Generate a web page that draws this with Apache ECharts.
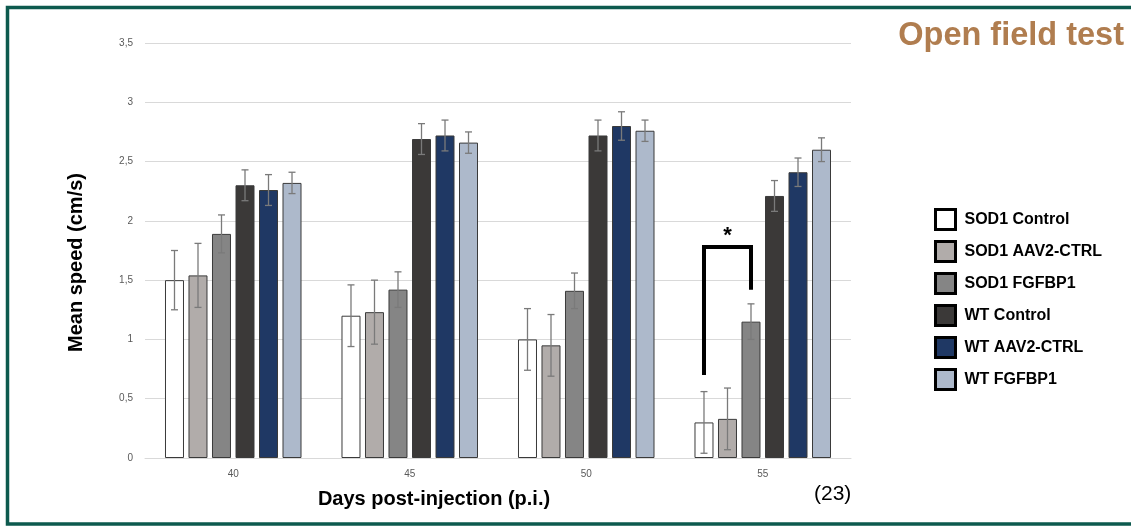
<!DOCTYPE html>
<html><head><meta charset="utf-8">
<script src="https://cdn.jsdelivr.net/npm/echarts@6/dist/echarts.min.js"></script>
<style>html,body{margin:0;padding:0;background:#fff}#c{width:1131px;height:527px}</style>
</head><body><div id="c"></div>
<script>
const categories = ['40', '45', '50', '55'];
const seriesNames = ['SOD1 Control', 'SOD1 AAV2-CTRL', 'SOD1 FGFBP1', 'WT Control', 'WT AAV2-CTRL', 'WT FGFBP1'];
const colors = ['#ffffff', '#b1acaa', '#858585', '#3b3938', '#1f3864', '#adb9cb'];
const sod1Control   = [1.50, 1.20, 1.00, 0.30];
const sod1Aav2      = [1.54, 1.23, 0.95, 0.33];
const sod1Fgfbp1    = [1.89, 1.42, 1.41, 1.15];
const wtControl     = [2.30, 2.69, 2.72, 2.21];
const wtAav2        = [2.26, 2.72, 2.80, 2.41];
const wtFgfbp1      = [2.32, 2.66, 2.76, 2.60];
const sod1ControlErr = [0.25, 0.26, 0.26, 0.26];
const sod1Aav2Err    = [0.27, 0.27, 0.26, 0.26];
const sod1Fgfbp1Err  = [0.16, 0.15, 0.15, 0.15];
const wtControlErr   = [0.13, 0.13, 0.13, 0.13];
const wtAav2Err      = [0.13, 0.13, 0.12, 0.12];
const wtFgfbp1Err    = [0.09, 0.09, 0.09, 0.10];
const yTicks = [0, 0.5, 1, 1.5, 2, 2.5, 3, 3.5];
// significance bracket (day 55): SOD1 Control vs SOD1 FGFBP1
const sigCategory = 3;
const sigBars = [0, 2];
const sigTop = 1.78;
const sigLeftBottom = 0.70;
const sigRightBottom = 1.42;
const sigStarY = 1.87;

const means = [sod1Control, sod1Aav2, sod1Fgfbp1, wtControl, wtAav2, wtFgfbp1];
const errs = [sod1ControlErr, sod1Aav2Err, sod1Fgfbp1Err, wtControlErr, wtAav2Err, wtFgfbp1Err];

const BAR_W = 19, GAP_RATIO = 0.237;
const nS = seriesNames.length;
function barOffset(i) {
  const gap = BAR_W * GAP_RATIO;
  const total = nS * BAR_W + (nS - 1) * gap;
  return -total / 2 + i * (BAR_W + gap) + BAR_W / 2;
}
const FONT = '"Liberation Sans", Arial';

const series = [];
means.forEach((m, i) => {
  series.push({
    name: seriesNames[i], type: 'bar', data: m, barWidth: BAR_W, barGap: (GAP_RATIO * 100) + '%',
    itemStyle: { color: colors[i], borderColor: '#3a3a3a', borderWidth: 1 },
    z: 2
  });
});
means.forEach((m, i) => {
  series.push({
    type: 'custom', name: 'err' + i, z: 5, silent: true,
    data: m.map((v, j) => [j, v, errs[i][j]]),
    renderItem: function (params, api) {
      const c = api.coord([api.value(0), api.value(1)]);
      const x = c[0] + barOffset(i);
      const hi = api.coord([api.value(0), api.value(1) + api.value(2)])[1];
      const lo = api.coord([api.value(0), api.value(1) - api.value(2)])[1];
      const st = { stroke: '#7a7a7a', lineWidth: 1.3 };
      return { type: 'group', children: [
        { type: 'line', shape: { x1: x, y1: hi, x2: x, y2: lo }, style: st },
        { type: 'line', shape: { x1: x - 3.5, y1: hi, x2: x + 3.5, y2: hi }, style: st },
        { type: 'line', shape: { x1: x - 3.5, y1: lo, x2: x + 3.5, y2: lo }, style: st }
      ]};
    }
  });
});
series.push({
  type: 'custom', name: 'sig', z: 6, silent: true,
  data: [[sigCategory, sigTop, sigLeftBottom, sigRightBottom, sigStarY]],
  renderItem: function (params, api) {
    const cx = api.coord([api.value(0), 0])[0];
    const xl = cx + barOffset(sigBars[0]);
    const xr = cx + barOffset(sigBars[1]);
    const yt = api.coord([api.value(0), api.value(1)])[1];
    const yl = api.coord([api.value(0), api.value(2)])[1];
    const yr = api.coord([api.value(0), api.value(3)])[1];
    const ys = api.coord([api.value(0), api.value(4)])[1];
    return { type: 'group', children: [
      { type: 'polyline', shape: { points: [[xl, yl], [xl, yt], [xr, yt], [xr, yr]] },
        style: { stroke: '#000', lineWidth: 4, fill: null, lineJoin: 'miter' } },
      { type: 'text', style: { x: (xl + xr) / 2, y: ys, text: '*', fill: '#000',
        font: 'bold 22px ' + FONT, align: 'center', verticalAlign: 'middle' } }
    ]};
  }
});

const chart = echarts.init(document.getElementById('c'), null, { renderer: 'canvas' });
chart.setOption({
  animation: false,
  backgroundColor: '#fff',
  grid: { left: 145, right: 280, top: 43, bottom: 69, containLabel: false },
  title: {
    text: 'Open field test', right: 2, top: 15,
    textStyle: { color: '#b07d4f', fontSize: 32.5, fontWeight: 'bold', fontFamily: FONT }
  },
  legend: {
    orient: 'vertical', left: 929, top: 203, itemWidth: 20, itemHeight: 20, itemGap: 9,
    icon: 'rect',
    data: seriesNames.map((n, i) => ({ name: n, itemStyle: { color: colors[i], borderColor: '#000', borderWidth: 3 } })),
    textStyle: { color: '#000', fontSize: 16, fontWeight: 'bold', fontFamily: FONT, padding: [0, 0, 0, 4] }
  },
  xAxis: {
    type: 'category', data: categories,
    name: 'Days post-injection (p.i.)', nameLocation: 'middle', nameGap: 31,
    nameTextStyle: { color: '#000', fontSize: 20, fontWeight: 'bold', fontFamily: FONT, padding: [0, 128, 0, 0] },
    axisLine: { lineStyle: { color: '#d9d9d9', width: 1 } },
    axisTick: { show: false },
    axisLabel: { color: '#595959', fontSize: 10, margin: 11, fontFamily: FONT }
  },
  yAxis: {
    type: 'value', min: yTicks[0], max: yTicks[yTicks.length - 1], interval: yTicks[1] - yTicks[0],
    name: 'Mean speed (cm/s)', nameLocation: 'middle', nameGap: 59, nameRotate: 90,
    nameTextStyle: { color: '#000', fontSize: 20, fontWeight: 'bold', fontFamily: FONT, padding: [0, 24, 0, 0] },
    axisLine: { show: false }, axisTick: { show: false },
    splitLine: { lineStyle: { color: '#d9d9d9', width: 1 } },
    axisLabel: { color: '#595959', fontSize: 10, margin: 12, fontFamily: FONT,
      formatter: v => String(v).replace('.', ',') }
  },
  graphic: [
    { type: 'rect', shape: { x: 7.5, y: 7.5, width: 1140, height: 516.5 },
      style: { fill: null, stroke: '#0d5a4e', lineWidth: 3.5 }, z: 100 },
    { type: 'text', left: 814, top: 484,
      style: { text: '(23)', fill: '#000', font: '21px ' + FONT } }
  ],
  series: series
});
</script></body></html>
